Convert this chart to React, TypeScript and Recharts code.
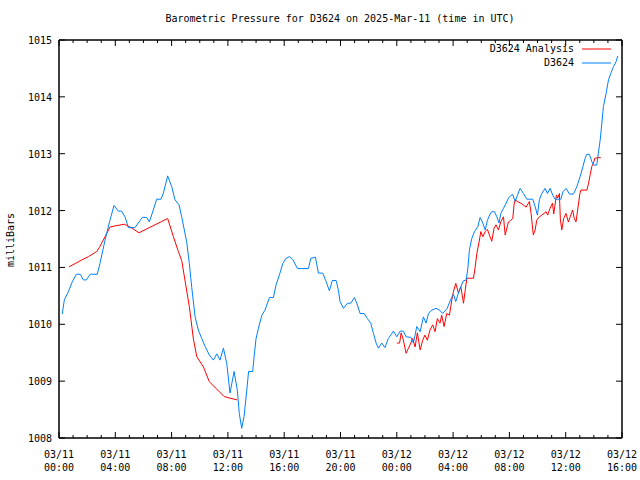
import React from "react";
import { LineChart, Line, XAxis, YAxis, Legend, ReferenceArea } from "recharts";

// ---- data (hours since 2025-03-11 00:00 UTC, pressure in mbar) ----
const analysisHours = [
  0.71, 1.61, 2.09, 2.68, 2.91, 3.27, 3.62, 3.98, 4.64, 5.05, 5.69, 7.72, 8.13, 8.48, 8.72, 8.96, 9.26, 9.55,
  9.79, 10.26, 10.68, 11.21, 11.73, 12.15, 12.67, null,
  24.0, 24.2, 24.31, 24.47, 24.66, 24.83, 25.0, 25.13, 25.3, 25.46, 25.66, 25.84, 26.0, 26.17, 26.36, 26.55,
  26.72, 26.88, 27.07, 27.19, 27.36, 27.55, 27.74, 27.91, 28.02, 28.19, 28.38, 28.55, 28.74, 28.86, 28.98,
  29.45, 29.57, 29.69, 29.85, 29.97, 30.11, 30.28, 30.44, 30.58, 30.75, 30.91, 31.05, 31.22, 31.39, 31.58,
  31.7, 31.93, 32.1, 32.24, 32.33, 32.41, 32.57, 32.88, 33.19, 33.42, 33.54, 33.7, 33.83, 33.94, 34.13, 34.3,
  34.46, 34.61, 34.72, 34.89, 35.06, 35.15, 35.34, 35.43, 35.55, 35.62, 35.72, 35.86, 36.02, 36.19, 36.32,
  36.49, 36.61, 36.73, 36.85, 37.01, 37.08, 37.51, 37.62, 37.74, 37.86, 37.98, 38.07, 38.26, 38.49,
];
const analysisPressure = [
  1011.01, 1011.13, 1011.19, 1011.28, 1011.37, 1011.54, 1011.71, 1011.73, 1011.76, 1011.71, 1011.61, 1011.86,
  1011.54, 1011.28, 1011.12, 1010.76, 1010.31, 1009.74, 1009.43, 1009.25, 1008.99, 1008.86, 1008.73, 1008.7,
  1008.67, null,
  1009.67, 1009.67, 1009.85, 1009.72, 1009.49, 1009.58, 1009.67, 1009.75, 1009.6, 1009.85, 1009.55, 1009.72,
  1009.81, 1009.72, 1009.9, 1009.99, 1009.87, 1010.1, 1010.02, 1010.16, 1009.96, 1010.19, 1010.16, 1010.43,
  1010.57, 1010.72, 1010.55, 1010.66, 1010.37, 1010.6, 1010.81, 1010.81, 1011.01, 1011.25, 1011.45, 1011.63,
  1011.54, 1011.63, 1011.67, 1011.57, 1011.46, 1011.69, 1011.75, 1011.66, 1011.8, 1011.89, 1011.57, 1011.8,
  1011.83, 1011.86, 1012.1, 1012.19, 1012.16, 1012.12, 1012.06, 1012.16, 1011.95, 1011.57, 1011.66, 1011.83,
  1011.89, 1011.92, 1011.95, 1011.98, 1011.92, 1012.04, 1012.13, 1011.94, 1012.27, 1012.22, 1012.3, 1011.85,
  1011.66, 1011.86, 1011.95, 1011.8, 1011.89, 1012.01, 1011.86, 1011.8, 1012.01, 1012.3, 1012.36, 1012.36,
  1012.48, 1012.63, 1012.78, 1012.84, 1012.92, 1012.93, 1012.93,
];

const stationHours = [
  0.23, 0.38, 0.66, 0.95, 1.23, 1.51, 1.73, 1.94, 2.22, 2.72, 2.91, 3.27, 3.62, 3.91, 4.22, 4.45, 4.69, 4.93,
  5.4, 5.92, 6.23, 6.42, 6.7, 6.94, 7.25, 7.42, 7.72, 8.01, 8.24, 8.53, 8.72, 9.07, 9.26, 9.43, 9.67, 9.9,
  10.14, 10.38, 10.68, 10.97, 11.21, 11.44, 11.68, 11.92, 12.15, 12.44, 12.67, 12.81, 12.98, 13.15, 13.34,
  13.47, 13.76, 13.86, 14.0, 14.17, 14.41, 14.64, 14.95, 15.23, 15.42, 15.66, 15.9, 16.13, 16.37, 16.61,
  16.94, 17.72, 17.89, 18.22, 18.43, 18.74, 18.98, 19.21, 19.42, 19.69, 19.85, 19.97, 20.21, 20.49, 20.73,
  20.99, 21.16, 21.39, 21.68, 21.91, 22.15, 22.34, 22.53, 22.69, 22.93, 23.16, 23.4, 23.76, 24.0, 24.24,
  24.47, 24.66, 25.0, 25.18, 25.42, 25.66, 25.89, 26.08, 26.25, 26.48, 26.79, 27.03, 27.27, 27.58, 27.84,
  28.02, 28.19, 28.38, 28.55, 28.71, 28.93, 29.05, 29.16, 29.33, 29.52, 29.76, 29.92, 30.11, 30.28, 30.44,
  30.63, 30.75, 30.94, 31.11, 31.27, 31.39, 31.58, 31.77, 31.93, 32.12, 32.24, 32.41, 32.57, 32.76, 33.0,
  33.24, 33.66, 33.83, 33.99, 34.13, 34.3, 34.54, 34.7, 34.89, 35.1, 35.25, 35.66, 35.8, 36.03, 36.27, 36.55,
  36.79, 37.03, 37.22, 37.38, 37.5, 37.68, 37.86, 37.97, 38.21, 38.32, 38.45, 38.57, 38.68, 38.87, 39.04,
  39.2, 39.39, 39.58, 39.7,
];
const stationPressure = [
  1010.18, 1010.43, 1010.57, 1010.75, 1010.88, 1010.88, 1010.78, 1010.78, 1010.88, 1010.88, 1011.07, 1011.48,
  1011.83, 1012.09, 1011.99, 1011.99, 1011.89, 1011.7, 1011.7, 1011.88, 1011.88, 1011.8, 1012.01, 1012.2,
  1012.2, 1012.31, 1012.61, 1012.42, 1012.19, 1012.1, 1011.89, 1011.45, 1011.07, 1010.65, 1010.13, 1009.9,
  1009.75, 1009.61, 1009.46, 1009.37, 1009.48, 1009.37, 1009.58, 1009.31, 1008.79, 1009.17, 1008.84, 1008.43,
  1008.17, 1008.38, 1008.84, 1009.17, 1009.17, 1009.43, 1009.75, 1009.93, 1010.16, 1010.25, 1010.47, 1010.47,
  1010.69, 1010.87, 1011.07, 1011.16, 1011.19, 1011.14, 1010.98, 1010.98, 1011.16, 1011.18, 1010.9, 1010.9,
  1010.75, 1010.59, 1010.77, 1010.77, 1010.6, 1010.4, 1010.28, 1010.37, 1010.37, 1010.47, 1010.37, 1010.19,
  1010.19, 1010.1, 1010.02, 1009.84, 1009.67, 1009.58, 1009.67, 1009.59, 1009.75, 1009.88, 1009.78, 1009.88,
  1009.88, 1009.78, 1009.77, 1009.67, 1009.96, 1009.87, 1010.13, 1010.02, 1010.19, 1010.25, 1010.28, 1010.25,
  1010.19, 1010.28, 1010.44, 1010.53, 1010.4, 1010.55, 1010.66, 1010.76, 1010.78, 1010.99, 1011.31, 1011.51,
  1011.63, 1011.72, 1011.88, 1011.78, 1011.66, 1011.83, 1011.94, 1011.98, 1011.98, 1011.89, 1011.78, 1011.95,
  1012.04, 1012.13, 1012.22, 1012.27, 1012.28, 1012.16, 1012.27, 1012.39, 1012.3, 1012.2, 1012.2, 1012.07,
  1011.92, 1012.19, 1012.3, 1012.39, 1012.3, 1012.39, 1012.26, 1012.2, 1012.2, 1012.33, 1012.39, 1012.29,
  1012.29, 1012.42, 1012.6, 1012.77, 1012.92, 1012.99, 1012.99, 1012.86, 1012.8, 1012.8, 1013.01, 1013.24,
  1013.54, 1013.83, 1014.06, 1014.3, 1014.41, 1014.53, 1014.62, 1014.72,
];

const majorHours = [0, 4, 8, 12, 16, 20, 24, 28, 32, 36, 40];
const majorDates = ["03/11", "03/11", "03/11", "03/11", "03/11", "03/11", "03/12", "03/12", "03/12", "03/12", "03/12"];
const majorTimes = ["00:00", "04:00", "08:00", "12:00", "16:00", "20:00", "00:00", "04:00", "08:00", "12:00", "16:00"];
const pressureTicks = [1008, 1009, 1010, 1011, 1012, 1013, 1014, 1015];
const hourTicks = Array.from({ length: 41 }, (_, i) => i);

const titleText = "Barometric Pressure for D3624 on 2025-Mar-11 (time in UTC)";
const yLabelText = "milliBars";
const analysisName = "D3624 Analysis";
const stationName = "D3624";

const analysisData = analysisHours.map((h, i) => ({ h, p: analysisPressure[i] }));
const stationData = stationHours.map((h, i) => ({ h, p: stationPressure[i] }));

const FONT = "'DejaVu Sans Mono', 'Liberation Mono', monospace";
const RED = "#ff0000";
const BLUE = "#0080ff";

const BottomTick = (props: any) => {
  const { x, y, payload } = props;
  const v = payload.value as number;
  const idx = majorHours.indexOf(v);
  const major = idx >= 0;
  return (
    <g>
      <line x1={x} x2={x} y1={y} y2={y - (major ? 6 : 3)} stroke="#000" />
      {major && (
        <text x={x} y={y + 20} textAnchor="middle" fontFamily={FONT} fontSize={10} fill="#000">
          {majorDates[idx]}
        </text>
      )}
      {major && (
        <text x={x} y={y + 33} textAnchor="middle" fontFamily={FONT} fontSize={10} fill="#000">
          {majorTimes[idx]}
        </text>
      )}
    </g>
  );
};

const TopTick = (props: any) => {
  const { x, y, payload } = props;
  const major = majorHours.indexOf(payload.value) >= 0;
  return <line x1={x} x2={x} y1={y} y2={y + (major ? 6 : 3)} stroke="#000" />;
};

const LeftTick = (props: any) => {
  const { x, y, payload } = props;
  return (
    <g>
      <line x1={x} x2={x + 6} y1={y} y2={y} stroke="#000" />
      <text x={x - 7} y={y + 4} textAnchor="end" fontFamily={FONT} fontSize={10} fill="#000">
        {payload.value}
      </text>
    </g>
  );
};

const RightTick = (props: any) => {
  const { x, y } = props;
  return <line x1={x} x2={x - 6} y1={y} y2={y} stroke="#000" />;
};

const LegendBox = () => (
  <svg width={200} height={30}>
    <text x={134} y={12} textAnchor="end" fontFamily={FONT} fontSize={10} fill="#000">
      {analysisName}
    </text>
    <line x1={142} x2={171} y1={9} y2={9} stroke={RED} />
    <text x={134} y={26} textAnchor="end" fontFamily={FONT} fontSize={10} fill="#000">
      {stationName}
    </text>
    <line x1={142} x2={171} y1={23} y2={23} stroke={BLUE} />
  </svg>
);

export default function App() {
  return (
    <div style={{ position: "absolute", left: 0, top: 0, width: 640, height: 480, background: "#fff" }}>
      <div
        style={{
          position: "absolute",
          left: 0,
          top: 12,
          width: 680,
          textAlign: "center",
          fontFamily: FONT,
          fontSize: 10,
          lineHeight: "14px",
          color: "#000",
          whiteSpace: "pre",
        }}
      >
        {titleText}
      </div>
      <LineChart width={640} height={480} margin={{ top: 39, right: 17, bottom: 0, left: 0 }}>
        <XAxis
          xAxisId="b"
          dataKey="h"
          type="number"
          domain={[0, 40]}
          ticks={hourTicks}
          interval={0}
          orientation="bottom"
          height={42}
          tickSize={0}
          tickMargin={0}
          tickLine={false}
          axisLine={{ stroke: "#000" }}
          tick={<BottomTick />}
          allowDataOverflow
        />
        <XAxis
          xAxisId="t"
          dataKey="h"
          type="number"
          domain={[0, 40]}
          ticks={hourTicks}
          interval={0}
          orientation="top"
          height={1}
          tickSize={0}
          tickMargin={0}
          tickLine={false}
          axisLine={{ stroke: "#000" }}
          tick={<TopTick />}
          allowDataOverflow
        />
        <YAxis
          yAxisId="l"
          type="number"
          domain={[1008, 1015]}
          ticks={pressureTicks}
          interval={0}
          orientation="left"
          width={59}
          tickSize={0}
          tickMargin={0}
          tickLine={false}
          axisLine={{ stroke: "#000" }}
          tick={<LeftTick />}
          allowDataOverflow
          label={{
            content: () => (
              <text
                transform="translate(14,240) rotate(-90)"
                textAnchor="middle"
                fontFamily={FONT}
                fontSize={10}
                fill="#000"
              >
                {yLabelText}
              </text>
            ),
          }}
        />
        <YAxis
          yAxisId="r"
          type="number"
          domain={[1008, 1015]}
          ticks={pressureTicks}
          interval={0}
          orientation="right"
          width={1}
          tickSize={0}
          tickMargin={0}
          tickLine={false}
          axisLine={{ stroke: "#000" }}
          tick={<RightTick />}
          allowDataOverflow
        />
        <ReferenceArea
          xAxisId="b"
          yAxisId="l"
          x1={0}
          x2={40}
          y1={1008}
          y2={1015}
          fill="none"
          fillOpacity={0}
          stroke="#000"
          strokeOpacity={1}
          ifOverflow="visible"
        />
        <Legend
          layout="vertical"
          verticalAlign="middle"
          align="center"
          wrapperStyle={{ left: 440, top: 40, width: 200, height: 30 }}
          content={() => <LegendBox />}
        />
        <Line
          xAxisId="b"
          yAxisId="l"
          data={analysisData}
          dataKey="p"
          name={analysisName}
          stroke={RED}
          strokeWidth={1}
          dot={false}
          activeDot={false}
          isAnimationActive={false}
          type="linear"
        />
        <Line
          xAxisId="b"
          yAxisId="l"
          data={stationData}
          dataKey="p"
          name={stationName}
          stroke={BLUE}
          strokeWidth={1}
          dot={false}
          activeDot={false}
          isAnimationActive={false}
          type="linear"
        />
      </LineChart>
    </div>
  );
}
